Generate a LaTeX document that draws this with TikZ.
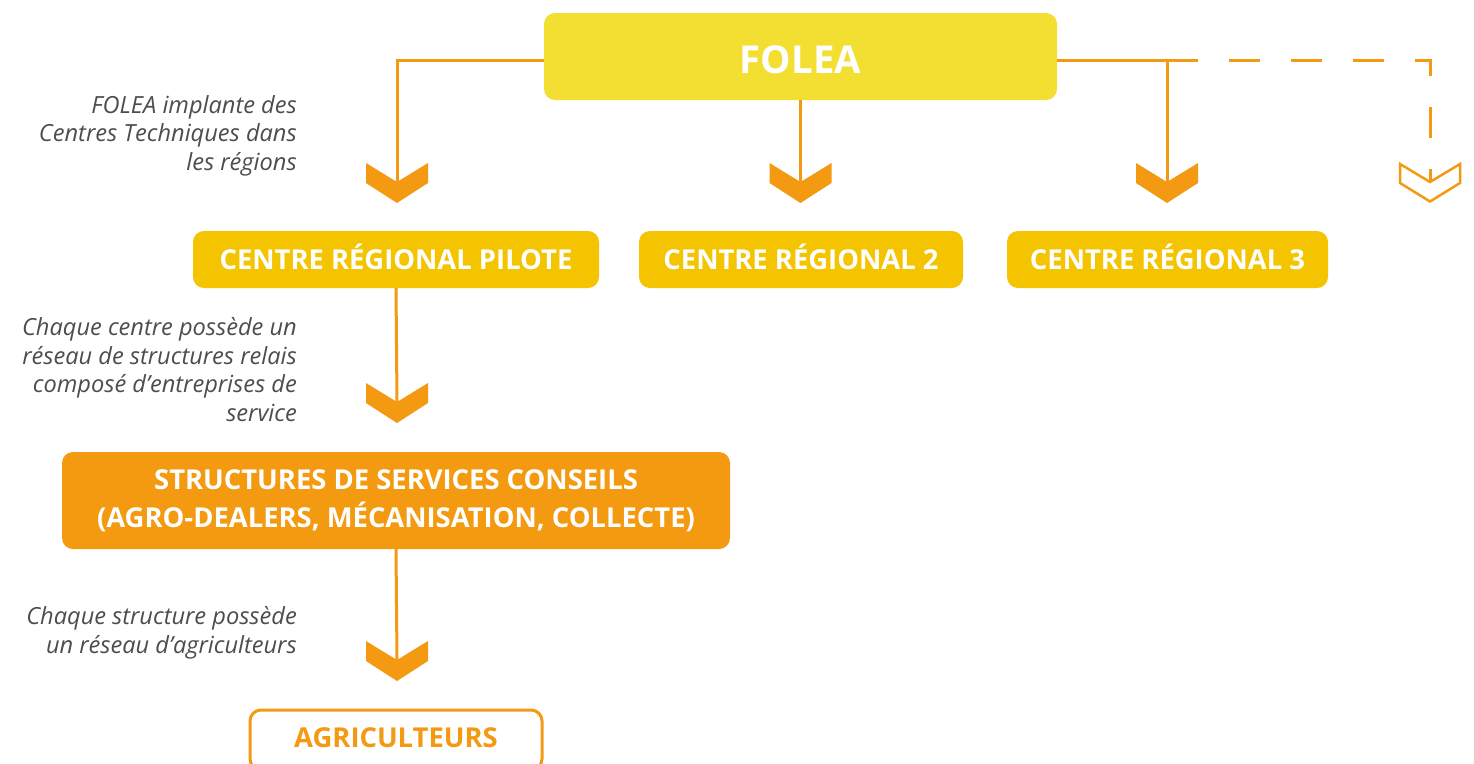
\documentclass[tikz,border=0pt]{standalone}
\usepackage{fontspec}
\setmainfont{Open Sans}
\definecolor{foleaY}{HTML}{F2DF32}
\definecolor{centreY}{HTML}{F5C400}
\definecolor{structO}{HTML}{F39A10}
\definecolor{lineO}{HTML}{F39A12}
\definecolor{noteG}{HTML}{4D4D4D}
\begin{document}
\begin{tikzpicture}[x=1pt,y=-1pt,
  box/.style={rounded corners=11pt, inner sep=0pt, text=white, align=center,
    font=\fontsize{27.4}{38}\selectfont\bfseries},
  capbox/.style={box, text height=19.6pt, text depth=0pt},
  link/.style={draw=lineO, line width=3pt},
  dlink/.style={link, dash pattern=on 31pt off 31pt},
  note/.style={anchor=base east, align=right, inner sep=0pt, text=noteG,
    font=\fontsize{23.6}{28.4}\selectfont\itshape},
  chev/.pic={\fill[lineO] (-31,-19) -- (0,0) -- (31,-19) -- (31,1) -- (0,21) -- (-31,1) -- cycle;},
  chevopen/.pic={\draw[lineO, line width=2.5pt, fill=white, line join=miter]
     (-30,-18) -- (0,0) -- (30,-18) -- (30,1) -- (0,19.5) -- (-30,1) -- cycle;}
]
\useasboundingbox (0,0) rectangle (1474,763);
\fill[white] (0,0) rectangle (1474,763);

% boxes
\node[capbox, fill=foleaY, minimum width=513pt, minimum height=87pt,
  font=\fontsize{38.4}{40}\selectfont\bfseries, text height=33.4pt] (folea) at (800.5,56.5) {FOLEA};
\node[capbox, fill=centreY, minimum width=406pt, minimum height=57pt] (c1) at (396,259.5) {CENTRE RÉGIONAL PILOTE};
\node[capbox, fill=centreY, minimum width=324pt, minimum height=57pt] (c2) at (801,259.5) {CENTRE RÉGIONAL 2};
\node[capbox, fill=centreY, minimum width=321pt, minimum height=57pt] (c3) at (1167.5,259.5) {CENTRE RÉGIONAL 3};
\node[box, fill=structO, minimum width=668pt, minimum height=97pt] (struct) at (396,500.5)
  {STRUCTURES DE SERVICES CONSEILS\\(AGRO-DEALERS, MÉCANISATION, COLLECTE)};
\node[capbox, draw=lineO, line width=3pt, fill=white, text=lineO, minimum width=292pt,
  minimum height=60pt, text depth=4pt] (agri) at (396,740) {AGRICULTEURS};

% arrow points
\coordinate (a1) at (397,182);
\coordinate (a2) at (800.5,182);
\coordinate (a3) at (1167,182);
\coordinate (a4) at (1430,182);
\coordinate (a5) at (397,402);
\coordinate (a6) at (397,660);
\coordinate (jr) at (1167,60);

% connectors
\draw[link] ([yshift=-3.5pt]folea.west) -| (a1);
\draw[link] (folea.south) -- (a2);
\draw[link] ([yshift=-3.5pt]folea.east) -| (a3);
\draw[dlink] (jr) -| (a4);
\draw[link] (c1.south) -- (a5);
\draw[link] (struct.south) -- (a6);

% arrowheads
\pic at (a1) {chev};
\pic at (a2) {chev};
\pic at (a3) {chev};
\pic at (a4) {chevopen};
\pic at (a5) {chev};
\pic at (a6) {chev};

% notes (anchor = baseline of the last line)
\node[note] (n1) at (297,170) {FOLEA implante des\\Centres Techniques dans\\les régions};
\node[note] (n2) at (297,421) {Chaque centre possède un\\réseau de structures relais\\composé d’entreprises de\\service};
\node[note] (n3) at (297,653) {Chaque structure possède\\un réseau d’agriculteurs};
\end{tikzpicture}
\end{document}
